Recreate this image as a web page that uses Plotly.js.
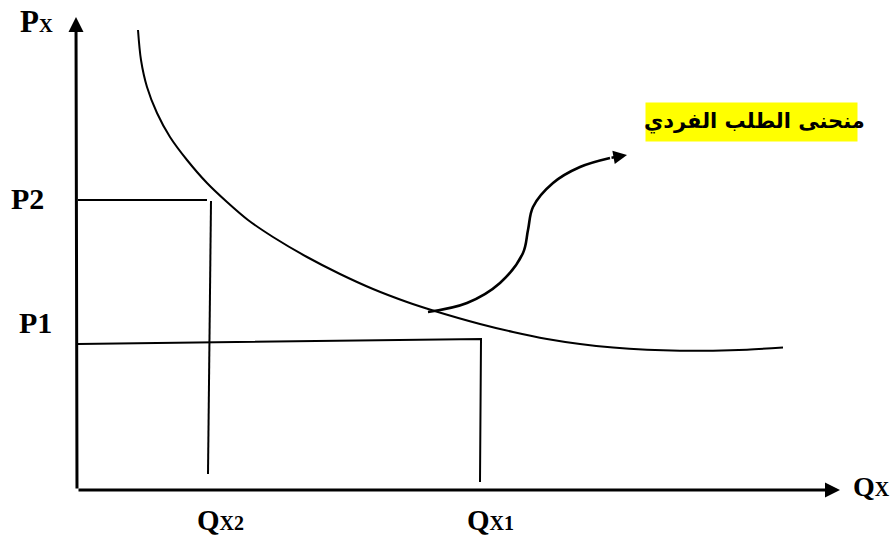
<!DOCTYPE html>
<html>
<head>
<meta charset="utf-8">
<script src="https://cdn.plot.ly/plotly-3.0.1.min.js"></script>
<style>
  html, body { margin: 0; padding: 0; background: #ffffff; }
  #chart { width: 892px; height: 540px; }
</style>
</head>
<body>
<div id="chart"></div>
<script>
// Individual demand curve: quantity demanded (Q) against price (P)
const demandQ = [61, 64, 70, 80, 93, 110, 130, 150, 171, 196, 230, 263, 296, 330, 356, 403, 436, 470, 503, 536, 570, 603, 636, 670, 706];
const demandP = [460, 430, 403, 377, 353, 330, 307, 288, 270, 253, 233, 216, 201, 188, 179.5, 166, 158, 151, 146, 142.5, 140.3, 139.3, 139.3, 140.3, 142.5];

// Guide lines: price P1 across to Qx1 and down to the quantity axis
const p1GuideQ = [1, 404, 403];
const p1GuideP = [146, 151, 8];

// Guide lines for price P2 and quantity Qx2
const p2HorizQ = [1, 130];
const p2HorizP = [290, 290];
const qx2VertQ = [134, 131];
const qx2VertP = [289, 16];

// Curved pointer from the demand curve to its caption
const pointerQ = [351, 390, 423, 446, 451, 456, 476, 503, 533];
const pointerP = [178, 187, 207, 237, 260, 283, 307, 323, 332];
const pointerTip = [550, 335];

// Axis extents
const axisOrigin = [0, 0];
const priceAxisTip = [-1, 473];
const qtyAxisTip = [763, 0];

// Text labels
const priceAxisLabel = 'P<span style="font-size:19px">X</span>';
const qtyAxisLabel = 'Q<span style="font-size:20px">X</span>';
const priceLabels = ['P2', 'P1'];
const priceLabelPos = [[-50, 292], [-42, 168]];
const qtyLabels = ['Q<span style="font-size:20px">X2</span>', 'Q<span style="font-size:20px">X1</span>'];
const qtyLabelPos = [[143, -30], [413, -30]];
const curveCaption = 'منحنى الطلب الفردي';
const captionPos = [674.5, 368];

const serif = '"Liberation Serif", "Times New Roman", serif';
const black = '#000000';

const traces = [
  { x: demandQ, y: demandP, mode: 'lines', line: { color: black, width: 2, shape: 'spline', smoothing: 0.9 } },
  { x: p1GuideQ, y: p1GuideP, mode: 'lines', line: { color: black, width: 2 } },
  { x: p2HorizQ, y: p2HorizP, mode: 'lines', line: { color: black, width: 2 } },
  { x: qx2VertQ, y: qx2VertP, mode: 'lines', line: { color: black, width: 2 } },
  { x: pointerQ, y: pointerP, mode: 'lines', line: { color: black, width: 2.6, shape: 'spline', smoothing: 1 } }
];

const annotations = [];

// Axes drawn as arrows from the origin
[priceAxisTip, qtyAxisTip].forEach(function (tip) {
  annotations.push({
    x: tip[0], y: tip[1], ax: axisOrigin[0], ay: axisOrigin[1],
    xref: 'x', yref: 'y', axref: 'x', ayref: 'y',
    text: '', showarrow: true, arrowhead: 2, arrowsize: 1, arrowwidth: 3, arrowcolor: black,
    standoff: 0, startstandoff: 0
  });
});

// Arrowhead at the end of the curved pointer
const n = pointerQ.length;
annotations.push({
  x: pointerTip[0], y: pointerTip[1], ax: pointerQ[n - 1], ay: pointerP[n - 1],
  xref: 'x', yref: 'y', axref: 'x', ayref: 'y',
  text: '', showarrow: true, arrowhead: 2, arrowsize: 1.05, arrowwidth: 2.6, arrowcolor: black,
  standoff: 0
});

annotations.push({
  x: -59, y: 469, xref: 'x', yref: 'y', xanchor: 'left', yanchor: 'middle',
  text: priceAxisLabel, showarrow: false, font: { family: serif, size: 31, color: black, weight: 'bold' }
});
annotations.push({
  x: 774, y: 4, xref: 'x', yref: 'y', xanchor: 'left', yanchor: 'middle',
  text: qtyAxisLabel, showarrow: false, font: { family: serif, size: 28, color: black, weight: 'bold' }
});
priceLabels.forEach(function (t, i) {
  annotations.push({
    x: priceLabelPos[i][0], y: priceLabelPos[i][1], xref: 'x', yref: 'y', xanchor: 'center', yanchor: 'middle',
    text: t, showarrow: false, font: { family: serif, size: 30, color: black, weight: 'bold' }
  });
});
qtyLabels.forEach(function (t, i) {
  annotations.push({
    x: qtyLabelPos[i][0], y: qtyLabelPos[i][1], xref: 'x', yref: 'y', xanchor: 'center', yanchor: 'middle',
    text: t, showarrow: false, font: { family: serif, size: 29, color: black, weight: 'bold' }
  });
});

// Yellow highlight behind the caption, then the caption itself
annotations.push({
  x: captionPos[0], y: captionPos[1], xref: 'x', yref: 'y', xanchor: 'center', yanchor: 'middle',
  text: '', showarrow: false, width: 211, height: 38, borderpad: 0, bgcolor: '#ffff00'
});
annotations.push({
  x: captionPos[0] + 3, y: captionPos[1] + 1, xref: 'x', yref: 'y', xanchor: 'center', yanchor: 'middle',
  text: '<b>' + curveCaption + '</b>', showarrow: false,
  font: { family: '"DejaVu Sans", Arial, sans-serif', size: 21, color: black }
});

const layout = {
  width: 892, height: 540,
  margin: { l: 0, r: 0, t: 0, b: 0 },
  paper_bgcolor: '#ffffff', plot_bgcolor: '#ffffff',
  showlegend: false,
  xaxis: { range: [-77, 815], visible: false, fixedrange: true },
  yaxis: { range: [-50, 490], visible: false, fixedrange: true },
  annotations: annotations
};

Plotly.newPlot('chart', traces, layout, { displayModeBar: false, staticPlot: true });
</script>
</body>
</html>
